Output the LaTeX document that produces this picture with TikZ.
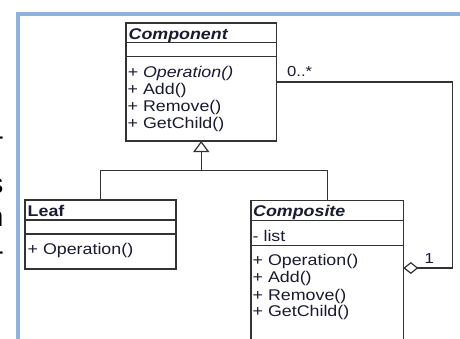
\documentclass[tikz,border=0pt]{standalone}
\usepackage{fontspec}
\setmainfont{Liberation Sans}[FakeStretch=1.15]
\newfontfamily\slidefont{Liberation Sans}
\usetikzlibrary{arrows.meta,calc}
\definecolor{ink}{HTML}{1A1A30}
\definecolor{edgegray}{HTML}{333333}
\definecolor{frameblue}{HTML}{8DB3E2}

\begin{document}
\begin{tikzpicture}[x=1pt,y=-1pt,
  umlbox/.style={draw=edgegray, line width=1.3pt, rectangle, inner sep=0pt,
                 outer sep=0pt, anchor=north west, fill=white},
  divider/.style={draw=edgegray, line width=1.3pt},
  member/.style={anchor=base west, inner sep=0pt, text=ink,
                 font=\fontsize{15.5}{17}\selectfont},
  classname/.style={member, font=\fontsize{15.5}{17}\selectfont\bfseries},
  abstractname/.style={member, font=\fontsize{15.5}{17}\selectfont\bfseries\itshape},
  abstractop/.style={member, font=\fontsize{15.5}{17}\selectfont\itshape},
  link/.style={draw=edgegray, line width=1.2pt},
  generalize/.style={link, -{Triangle[open, length=11pt, width=16pt, fill=white]}},
  aggregate/.style={link, -{Diamond[open, length=15pt, width=12pt, fill=white]}},
  mult/.style={anchor=base west, inner sep=0pt, text=ink,
               font=\fontsize{14.5}{16}\selectfont},
  fragment/.style={anchor=east, inner sep=0pt, text=black,
                   font=\fontsize{28}{30}\slidefont},
]
\useasboundingbox (0,0) rectangle (460,338);

% slide frame
\draw[frameblue, line width=4pt] (17.5,400) -- (17.5,13.8) -- (480,13.8);

% slide text cut at the left edge
\node[fragment] (fragA) at (4.2,141) {-};
\node[fragment] (fragB) at (3.6,186) {s};
\node[fragment] (fragC) at (3.6,219) {n};
\node[fragment] (fragD) at (4.2,256) {-};

% Component
\node[umlbox, minimum width=150.5pt, minimum height=118pt] (comp) at (126,23) {};
\draw[divider] ($(comp.north west)+(0,19.7)$) -- ($(comp.north east)+(0,19.7)$);
\draw[divider] ($(comp.north west)+(0,33.7)$) -- ($(comp.north east)+(0,33.7)$);
\node[abstractname] (compName) at (128.5,39.3) {Component};
\node[abstractop] (compOp) at (127.5,77.5) {+ Operation()};
\node[member] (compAdd) at (127.5,94.3) {+ Add()};
\node[member] (compRemove) at (127.5,111.3) {+ Remove()};
\node[member] (compChild) at (127.5,128) {+ GetChild()};

% Leaf
\node[umlbox, minimum width=151pt, minimum height=69pt] (leaf) at (25,200) {};
\draw[divider] ($(leaf.north west)+(0,20)$) -- ($(leaf.north east)+(0,20)$);
\draw[divider] ($(leaf.north west)+(0,34)$) -- ($(leaf.north east)+(0,34)$);
\node[classname] (leafName) at (27.5,216.5) {Leaf};
\node[member] (leafOp) at (27.5,254) {+ Operation()};

% Composite
\node[umlbox, minimum width=152.3pt, minimum height=180pt] (composite) at (251,200.7) {};
\draw[divider] ($(composite.north west)+(0,20)$) -- ($(composite.north east)+(0,20)$);
\draw[divider] ($(composite.north west)+(0,44.6)$) -- ($(composite.north east)+(0,44.6)$);
\node[abstractname] (compositeName) at (253,216) {Composite};
\node[member] (compositeList) at (252.5,241.7) {- list};
\node[member] (compositeOp) at (252.5,265) {+ Operation()};
\node[member] (compositeAdd) at (252.5,282.3) {+ Add()};
\node[member] (compositeRemove) at (252.5,300) {+ Remove()};
\node[member] (compositeChild) at (252.5,316.7) {+ GetChild()};

% generalization: Leaf and Composite derive from Component
\coordinate (join) at (201.25,170.7);
\draw[link] (leaf.north) |- (join) -| (composite.north);
\draw[generalize] (join) -- (comp.south);

% aggregation: Composite holds its children
\coordinate (bend) at (452.7,268);
\draw[aggregate] (comp.east) -| (bend) -- (composite.east |- bend);
\node[mult] (multMany) at (287,76) {0..*};
\node[mult] (multOne) at (424.5,263) {1};
\end{tikzpicture}
\end{document}
